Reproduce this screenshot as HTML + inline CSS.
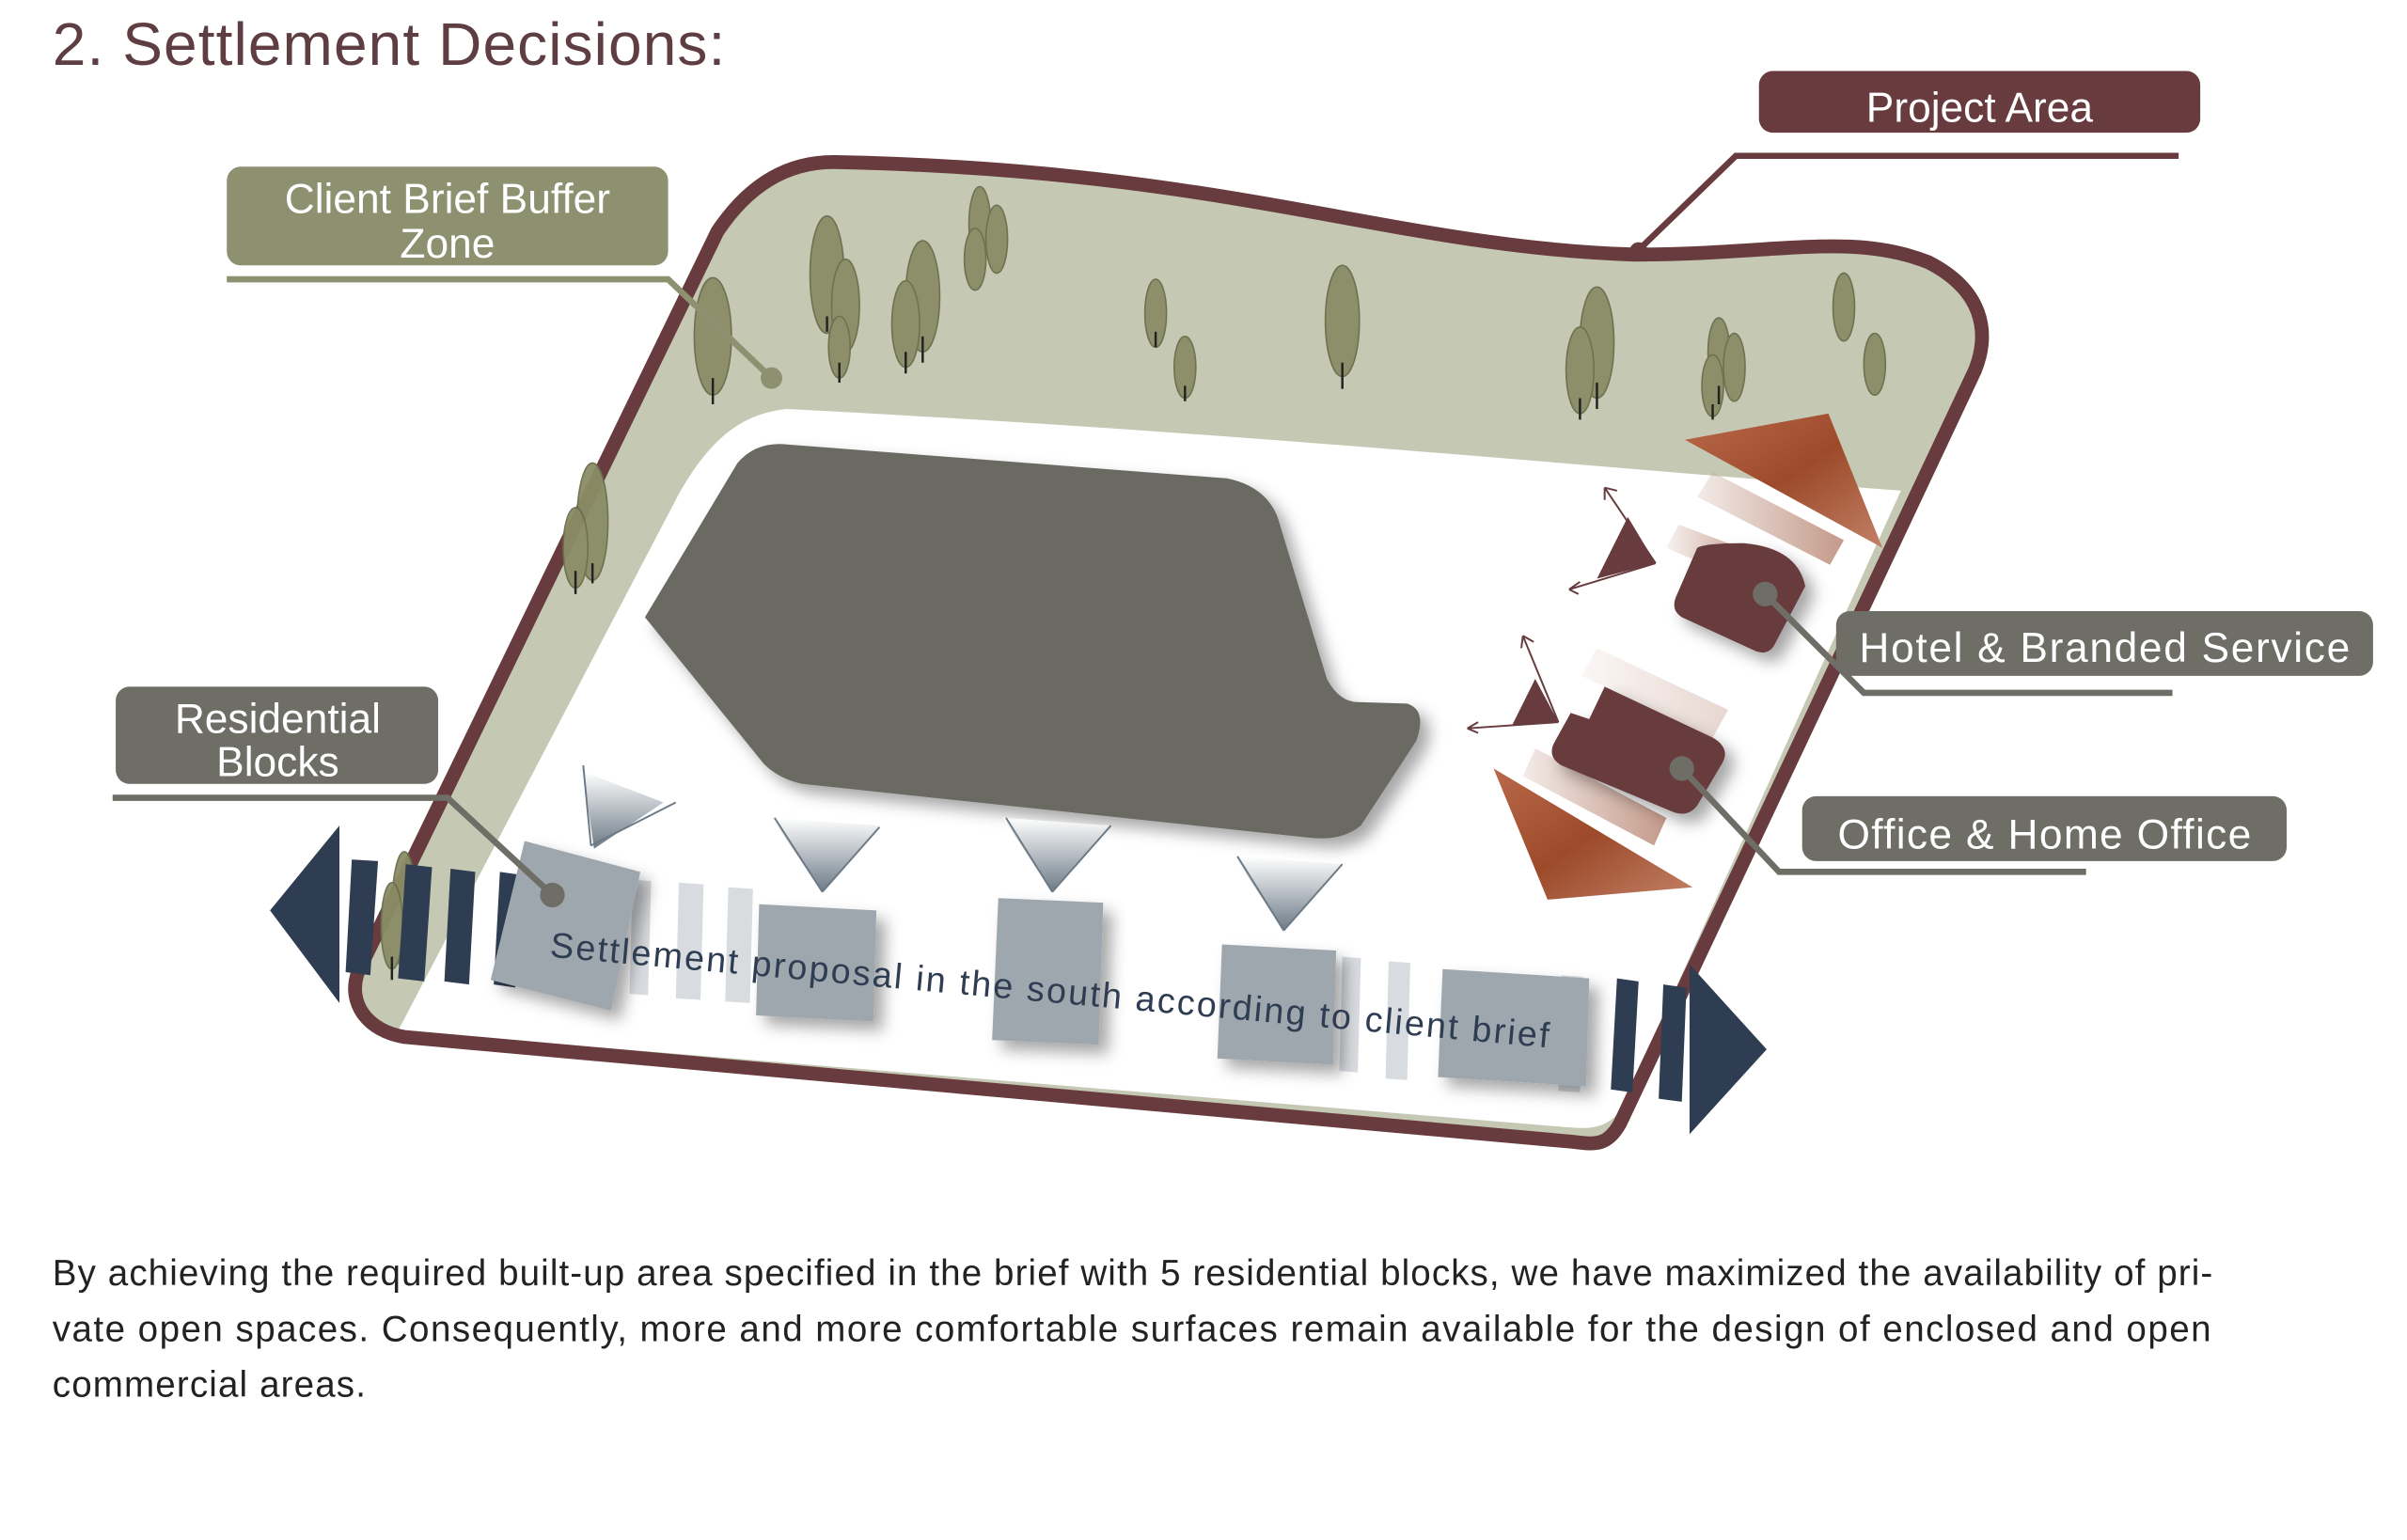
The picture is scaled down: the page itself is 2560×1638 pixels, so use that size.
<!DOCTYPE html>
<html><head><meta charset="utf-8"><style>
html,body{margin:0;padding:0;background:#fff;}
svg{display:block;}
text{font-family:"Liberation Sans",sans-serif;}
</style></head><body>
<svg width="2560" height="1638" viewBox="0 0 1560 998" preserveAspectRatio="none" xmlns="http://www.w3.org/2000/svg">
<defs>
<linearGradient id="org" x1="0" y1="0" x2="1" y2="1"><stop offset="0" stop-color="#b9694a"/><stop offset="0.5" stop-color="#9c4a2a"/><stop offset="1" stop-color="#c28066"/></linearGradient>
<linearGradient id="fade" x1="0" y1="0" x2="1" y2="0"><stop offset="0" stop-color="#c49a8a" stop-opacity="0.2"/><stop offset="1" stop-color="#c49a8a"/></linearGradient>
<linearGradient id="tri" x1="0" y1="0" x2="0" y2="1"><stop offset="0" stop-color="#ffffff"/><stop offset="1" stop-color="#6c7a86"/></linearGradient>
<filter id="sh" x="-20%" y="-20%" width="150%" height="150%"><feDropShadow dx="6" dy="6" stdDeviation="5" flood-color="#000" flood-opacity="0.35"/></filter>
</defs>
<text x="34" y="42" font-size="39" fill="#5e3e42" textLength="436">2. Settlement Decisions:</text>

<!-- project area -->
<path d="M540,105 C800,110 900,160 1060,165 C1150,165 1200,150 1250,170 C1285,188 1290,215 1280,240 L1050,728 C1042,742 1035,742 1020,740 L262,672 C238,668 225,650 232,630 L465,150 C485,120 510,105 540,105 Z" fill="#c5c8b3"/>
<path d="M510,265 C800,280 1000,300 1232,318 L1050,720 C1040,732 1030,732 1010,730 L258,668 L440,320 C460,285 480,268 510,265 Z" fill="#fff"/>
<path d="M540,105 C800,110 900,160 1060,165 C1150,165 1200,150 1250,170 C1285,188 1290,215 1280,240 L1050,728 C1042,742 1035,742 1020,740 L262,672 C238,668 225,650 232,630 L465,150 C485,120 510,105 540,105 Z" fill="none" stroke="#683b3e" stroke-width="9"/>

<!-- central blob -->
<path d="M418,400 L478,300 Q490,286 510,288 L795,310 Q820,315 828,335 L860,440 Q868,455 880,455 L912,456 Q925,460 918,480 L882,535 Q870,545 850,543 L520,508 Q505,505 495,495 Z" fill="#6b6a64" filter="url(#sh)"/>

<!-- trees -->
<g fill="#8a8d66" stroke="#6b6e4c" stroke-width="1" opacity="0.95">
<ellipse cx="462" cy="218" rx="12" ry="38"/><ellipse cx="536" cy="178" rx="11" ry="38"/><ellipse cx="548" cy="198" rx="9" ry="30"/><ellipse cx="544" cy="225" rx="7" ry="20"/><ellipse cx="598" cy="192" rx="11" ry="36"/><ellipse cx="587" cy="210" rx="9" ry="28"/><ellipse cx="635" cy="145" rx="7" ry="24"/><ellipse cx="646" cy="155" rx="7" ry="22"/><ellipse cx="632" cy="168" rx="7" ry="20"/><ellipse cx="749" cy="203" rx="7" ry="22"/><ellipse cx="768" cy="238" rx="7" ry="20"/><ellipse cx="870" cy="208" rx="11" ry="36"/><ellipse cx="1035" cy="222" rx="11" ry="36"/><ellipse cx="1024" cy="240" rx="9" ry="28"/><ellipse cx="1114" cy="228" rx="7" ry="22"/><ellipse cx="1124" cy="238" rx="7" ry="22"/><ellipse cx="1110" cy="250" rx="7" ry="20"/><ellipse cx="1195" cy="199" rx="7" ry="22"/><ellipse cx="1215" cy="236" rx="7" ry="20"/><ellipse cx="384" cy="338" rx="10" ry="38"/><ellipse cx="373" cy="355" rx="8" ry="26"/><ellipse cx="262" cy="590" rx="8" ry="38"/><ellipse cx="254" cy="600" rx="7" ry="28"/>
</g>
<g stroke="#222" stroke-width="1.5">
<path d="M462,245V262M536,205V215M598,218V235M587,228V242M544,235V248M870,235V252M1035,248V265M1024,258V272M749,215V225M768,250V260M384,365V378M373,370V385M1114,250V262M1110,262V272M254,620V635"/>
</g>

<!-- bottom band -->
<g fill="#2e3d52">
<polygon points="175,590 220,535 220,650"/><polygon points="1095,625 1145,680 1095,735"/>
<polygon points="228,557 245,558 240,632 224,630"/><polygon points="263,560 280,562 275,636 258,634"/><polygon points="292,563 308,565 304,638 288,636"/><polygon points="324,565 338,567 334,640 320,638"/>
<polygon points="1048,634 1062,636 1058,708 1044,706"/><polygon points="1078,638 1093,640 1090,714 1075,712"/>
</g>
<g fill="#c8cdd2" opacity="0.7">
<polygon points="410,570 422,571 420,645 408,644"/><polygon points="440,572 456,573 454,648 438,647"/><polygon points="472,575 488,576 486,650 470,649"/>
<polygon points="870,620 882,621 880,695 868,694"/><polygon points="900,623 914,624 912,700 898,699"/><polygon points="1012,632 1026,633 1024,708 1010,707"/>
</g>
<g fill="#9ea7ae" filter="url(#sh)">
<polygon points="340,545 415,565 396,655 318,635"/>
<polygon points="492,586 568,590 566,662 490,658"/>
<polygon points="647,582 715,585 712,677 643,674"/>
<polygon points="792,612 866,616 864,690 789,686"/>
<polygon points="935,628 1030,634 1028,704 932,698"/>
</g>
<g fill="url(#tri)">
<polygon points="378,500 430,520 385,550"/><polygon points="500,530 570,535 533,578"/><polygon points="650,530 720,535 682,578"/><polygon points="800,555 870,560 832,603"/>
</g>
<g stroke="#6c7a86" stroke-width="1.2" fill="none">
<path d="M383,548 L378,496 M383,548 L438,520 M533,578 L502,530 M533,578 L570,536 M682,578 L652,530 M682,578 L720,535 M832,603 L802,555 M832,603 L870,560"/>
</g>
<text transform="translate(356,620) rotate(5.2)" font-size="23" fill="#2e3d52" textLength="650">Settlement proposal in the south according to client brief</text>

<!-- east buildings -->
<polygon points="1092,285 1185,268 1220,355" fill="url(#org)"/>
<polygon points="968,498 1097,575 1003,583" fill="url(#org)"/>
<polygon points="1110,306 1195,350 1186,366 1100,322" fill="url(#fade)"/>
<polygon points="1088,340 1120,352 1110,368 1080,355" fill="url(#fade)" opacity="0.7"/>
<polygon points="1035,420 1120,460 1110,478 1025,438" fill="url(#fade)" opacity="0.4"/>
<polygon points="995,485 1080,530 1072,548 987,503" fill="url(#fade)"/>
<path d="M1100,355 Q1105,352 1130,352 Q1165,355 1170,380 L1150,418 Q1146,425 1138,422 L1090,400 Q1082,395 1087,385 Z" fill="#683b3e" filter="url(#sh)"/>
<path d="M1040,445 L1110,478 Q1122,485 1116,495 L1100,522 Q1094,530 1084,526 L1012,496 Q1002,490 1008,480 L1018,462 L1030,466 Z" fill="#683b3e" filter="url(#sh)"/>
<polygon points="1055,335 1073,365 1035,375" fill="#683b3e"/>
<polygon points="995,440 1010,468 980,470" fill="#683b3e"/>
<g stroke="#683b3e" stroke-width="1.2" fill="none">
<path d="M1073,365 L1040,316 M1040,316 l0,8 M1040,316 l8,2 M1073,365 L1017,382 M1017,382 l7,-5 M1017,382 l6,3 M1010,468 L987,412 M987,412 l-1,8 M987,412 l7,4 M1010,468 L951,472 M951,472 l7,-4 M951,472 l7,3"/>
</g>

<!-- labels -->
<rect x="1140" y="46" width="286" height="40" rx="9" fill="#683b3e"/>
<text x="1283" y="79" font-size="27" fill="#fff" text-anchor="middle">Project Area</text>
<path d="M1412,101 H1125 L1062,162" stroke="#683b3e" stroke-width="4" fill="none"/>
<circle cx="1062" cy="163" r="6" fill="#683b3e"/>

<rect x="147" y="108" width="286" height="64" rx="9" fill="#8e9170"/>
<text x="290" y="138" font-size="27" fill="#fff" text-anchor="middle">Client Brief Buffer</text>
<text x="290" y="167" font-size="27" fill="#fff" text-anchor="middle">Zone</text>
<path d="M147,181 H433 L500,245" stroke="#8e9170" stroke-width="4" fill="none"/>
<circle cx="500" cy="245" r="7" fill="#8e9170"/>

<rect x="75" y="445" width="209" height="63" rx="9" fill="#6e6d66"/>
<text x="180" y="475" font-size="27" fill="#fff" text-anchor="middle">Residential</text>
<text x="180" y="503" font-size="27" fill="#fff" text-anchor="middle">Blocks</text>
<path d="M73,517 H290 L358,580" stroke="#6e6d66" stroke-width="4" fill="none"/>
<circle cx="358" cy="580" r="8" fill="#6e6d66"/>

<rect x="1190" y="396" width="348" height="42" rx="9" fill="#6e6d66"/>
<text x="1364" y="429" font-size="27" fill="#fff" text-anchor="middle" textLength="318">Hotel &amp; Branded Service</text>
<path d="M1144,385 L1208,449 H1408" stroke="#6e6d66" stroke-width="4" fill="none"/>
<circle cx="1144" cy="385" r="8" fill="#6e6d66"/>

<rect x="1168" y="516" width="314" height="42" rx="9" fill="#6e6d66"/>
<text x="1325" y="550" font-size="27" fill="#fff" text-anchor="middle" textLength="268">Office &amp; Home Office</text>
<path d="M1090,498 L1153,565 H1352" stroke="#6e6d66" stroke-width="4" fill="none"/>
<circle cx="1090" cy="498" r="8" fill="#6e6d66"/>

<g font-size="23.5" fill="#222">
<text x="34" y="833" textLength="1400">By achieving the required built-up area specified in the brief with 5 residential blocks, we have maximized the availability of pri-</text>
<text x="34" y="869" textLength="1399">vate open spaces. Consequently, more and more comfortable surfaces remain available for the design of enclosed and open</text>
<text x="34" y="905" textLength="203">commercial areas.</text>
</g>
</svg>
</body></html>
